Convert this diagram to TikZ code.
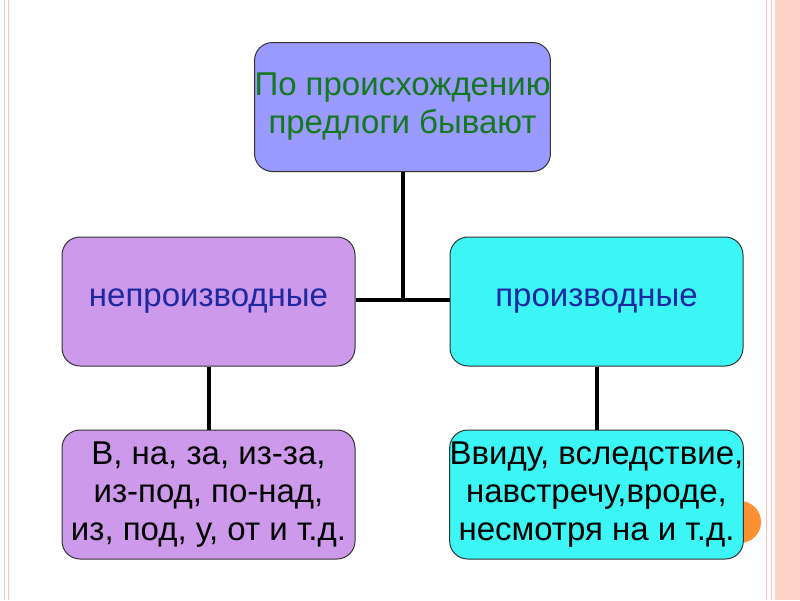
\documentclass[tikz,border=0pt]{standalone}
\usepackage{fontspec}
\setmainfont{Liberation Sans}
\begin{document}
\begin{tikzpicture}[x=1pt,y=-1pt,
  box/.style={draw=black!80,line width=1pt,rounded corners=18pt,minimum width=293pt,minimum height=129pt,inner sep=0pt,align=center,font=\fontsize{33}{38}\selectfont},
  conn/.style={line width=4pt,black}]
\useasboundingbox (0,0) rectangle (800,600);
\fill[white] (0,0) rectangle (800,600);
\fill[orange!15!pink!60] (775,0) rectangle (800,600);
\draw[red!25,line width=1pt] (4,0)--(4,600) (8,0)--(8,600) (766,0)--(766,600) (771,0)--(771,600);
\fill[orange!90!red!80] (740,522) circle (21);
\node[box,fill={rgb,255:red,153;green,153;blue,255},text={rgb,255:red,20;green,120;blue,30}] (top) at (402.5,107) {По происхождению\\предлоги бывают};
\node[box,fill={rgb,255:red,204;green,153;blue,235},text={rgb,255:red,30;green,40;blue,160}] (l) at (208.5,301.5) {непроизводные};
\node[box,fill={rgb,255:red,60;green,245;blue,245},text={rgb,255:red,30;green,40;blue,160}] (r) at (596.5,301.5) {производные};
\node[box,fill={rgb,255:red,204;green,153;blue,235}] (bl) at (208.5,494.5) {В, на, за, из-за,\\из-под, по-над,\\из, под, у, от и т.д.};
\node[box,fill={rgb,255:red,60;green,245;blue,245}] (br) at (596.5,494.5) {Ввиду, вследствие,\\навстречу,вроде,\\несмотря на и т.д.};
\coordinate (j) at (402.5,300);
\draw[conn] (top.south) -- (j);
\draw[conn] (l.east |- j) -- (r.west |- j);
\draw[conn] (l.south) -- (bl.north);
\draw[conn] (r.south) -- (br.north);
\end{tikzpicture}
\end{document}
